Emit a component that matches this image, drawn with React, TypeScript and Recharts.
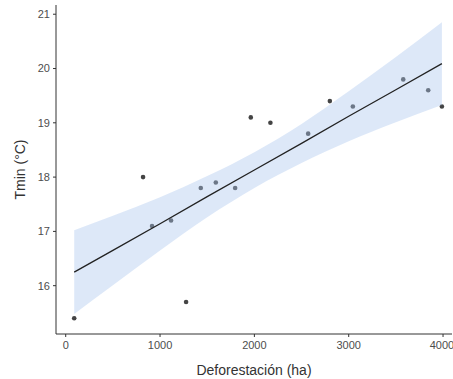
import React from "react";
import { ComposedChart, XAxis, YAxis, Scatter, Area, Line } from "recharts";

// observed points
const deforestacion = [90, 820, 915, 1117, 1276, 1432, 1591, 1796, 1962, 2170, 2570, 2800, 3044, 3578, 3843, 3988];
const tmin = [15.4, 18.0, 17.1, 17.2, 15.7, 17.8, 17.9, 17.8, 19.1, 19.0, 18.8, 19.4, 19.3, 19.8, 19.6, 19.3];

// fitted line and confidence band
const fitX = [90, 500, 1000, 1500, 2000, 2500, 3000, 3500, 3988];
const fitY = [16.25, 16.65, 17.14, 17.64, 18.13, 18.62, 19.12, 19.61, 20.09];
const bandLow = [15.48, 16.01, 16.65, 17.26, 17.8, 18.26, 18.66, 19.01, 19.33];
const bandHigh = [17.02, 17.29, 17.63, 18.02, 18.46, 18.98, 19.58, 20.21, 20.85];

const xTicks = [0, 1000, 2000, 3000, 4000];
const yTicks = [16, 17, 18, 19, 20, 21];

const points = deforestacion.map((x, i) => ({ x, y: tmin[i] }));
const fit = fitX.map((x, i) => ({ x, y: fitY[i], band: [bandLow[i], bandHigh[i]] }));

const tickStyle = { fill: "#4d4d4d", fontSize: 11, fontFamily: "Liberation Sans, Arial, sans-serif" };
const titleStyle = { fill: "#333", fontSize: 14, fontFamily: "Liberation Sans, Arial, sans-serif" };

const Dot = (props: any) => <circle cx={props.cx} cy={props.cy} r={2.3} fill="#444" />;

export default function App() {
  return (
    <div style={{ position: "absolute", left: 0, top: 0, background: "#fff" }}>
      <ComposedChart width={453} height={379} margin={{ top: 5, right: 1, left: 0, bottom: 0 }}>
        <XAxis
          type="number"
          dataKey="x"
          domain={[-103, 4095]}
          ticks={xTicks}
          allowDataOverflow
          height={45}
          tickSize={3}
          tickMargin={4}
          tick={tickStyle}
          stroke="#333"
          label={{ value: "Deforestación (ha)", position: "insideBottom", offset: 4, style: titleStyle }}
        />
        <YAxis
          type="number"
          domain={[15.11, 21.17]}
          ticks={yTicks}
          allowDataOverflow
          width={56}
          tickSize={3}
          tickMargin={3}
          tick={tickStyle}
          stroke="#333"
          label={{ value: "Tmin (°C)", angle: -90, position: "insideLeft", offset: 20, style: { ...titleStyle, textAnchor: "middle" } }}
        />
        <Scatter data={points} dataKey="y" shape={<Dot />} isAnimationActive={false} zIndex={50} />
        <Area
          data={fit}
          dataKey="band"
          type="monotone"
          stroke="none"
          fill="#a9c6ee"
          fillOpacity={0.4}
          isAnimationActive={false}
          activeDot={false}
        />
        <Line
          data={fit}
          dataKey="y"
          type="linear"
          stroke="#222"
          strokeWidth={1.3}
          dot={false}
          activeDot={false}
          isAnimationActive={false}
        />
      </ComposedChart>
    </div>
  );
}
